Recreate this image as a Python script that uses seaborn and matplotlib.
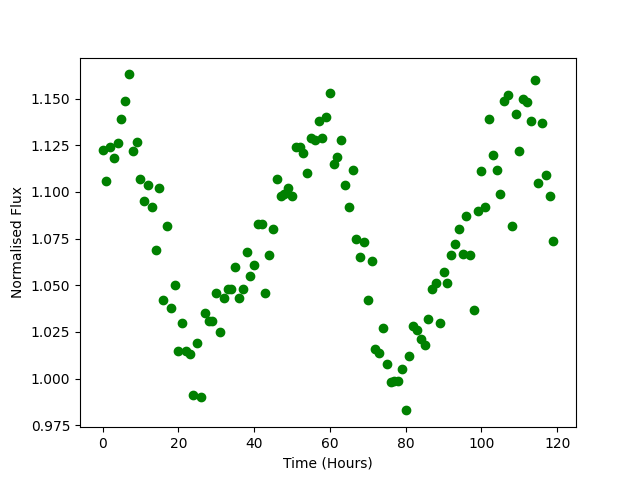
import numpy as np
import matplotlib
matplotlib.use("Agg")
import matplotlib.pyplot as plt
import seaborn as sns

# hourly flux readings
hours = list(range(120))
flux = [
    1.1225, 1.106, 1.124, 1.118, 1.126, 1.139, 1.149, 1.163, 1.122, 1.127,
    1.107, 1.095, 1.104, 1.092, 1.069, 1.102, 1.042, 1.082, 1.038, 1.050,
    1.015, 1.030, 1.015, 1.013, 0.991, 1.019, 0.990, 1.035, 1.031, 1.031,
    1.046, 1.025, 1.043, 1.048, 1.048, 1.060, 1.043, 1.048, 1.068, 1.055,
    1.061, 1.083, 1.083, 1.046, 1.066, 1.080, 1.107, 1.098, 1.099, 1.102,
    1.098, 1.124, 1.124, 1.121, 1.110, 1.129, 1.128, 1.138, 1.129, 1.140,
    1.153, 1.115, 1.119, 1.128, 1.104, 1.092, 1.112, 1.075, 1.065, 1.073,
    1.042, 1.063, 1.016, 1.014, 1.027, 1.008, 0.998, 0.999, 0.999, 1.005,
    0.983, 1.012, 1.028, 1.026, 1.021, 1.018, 1.032, 1.048, 1.051, 1.030,
    1.057, 1.051, 1.066, 1.072, 1.080, 1.067, 1.087, 1.066, 1.037, 1.090,
    1.111, 1.092, 1.139, 1.120, 1.112, 1.099, 1.149, 1.152, 1.082, 1.142,
    1.122, 1.150, 1.148, 1.138, 1.160, 1.105, 1.137, 1.109, 1.098, 1.074,
]

fig, ax = plt.subplots(figsize=(6.4, 4.8), dpi=100)
sns.scatterplot(x=hours, y=flux, color="green", edgecolor="green",
                s=36, linewidth=1.0, ax=ax)
ax.set_xlabel("Time (Hours)")
ax.set_ylabel("Normalised Flux")

fig.savefig("out.png", dpi=100)
